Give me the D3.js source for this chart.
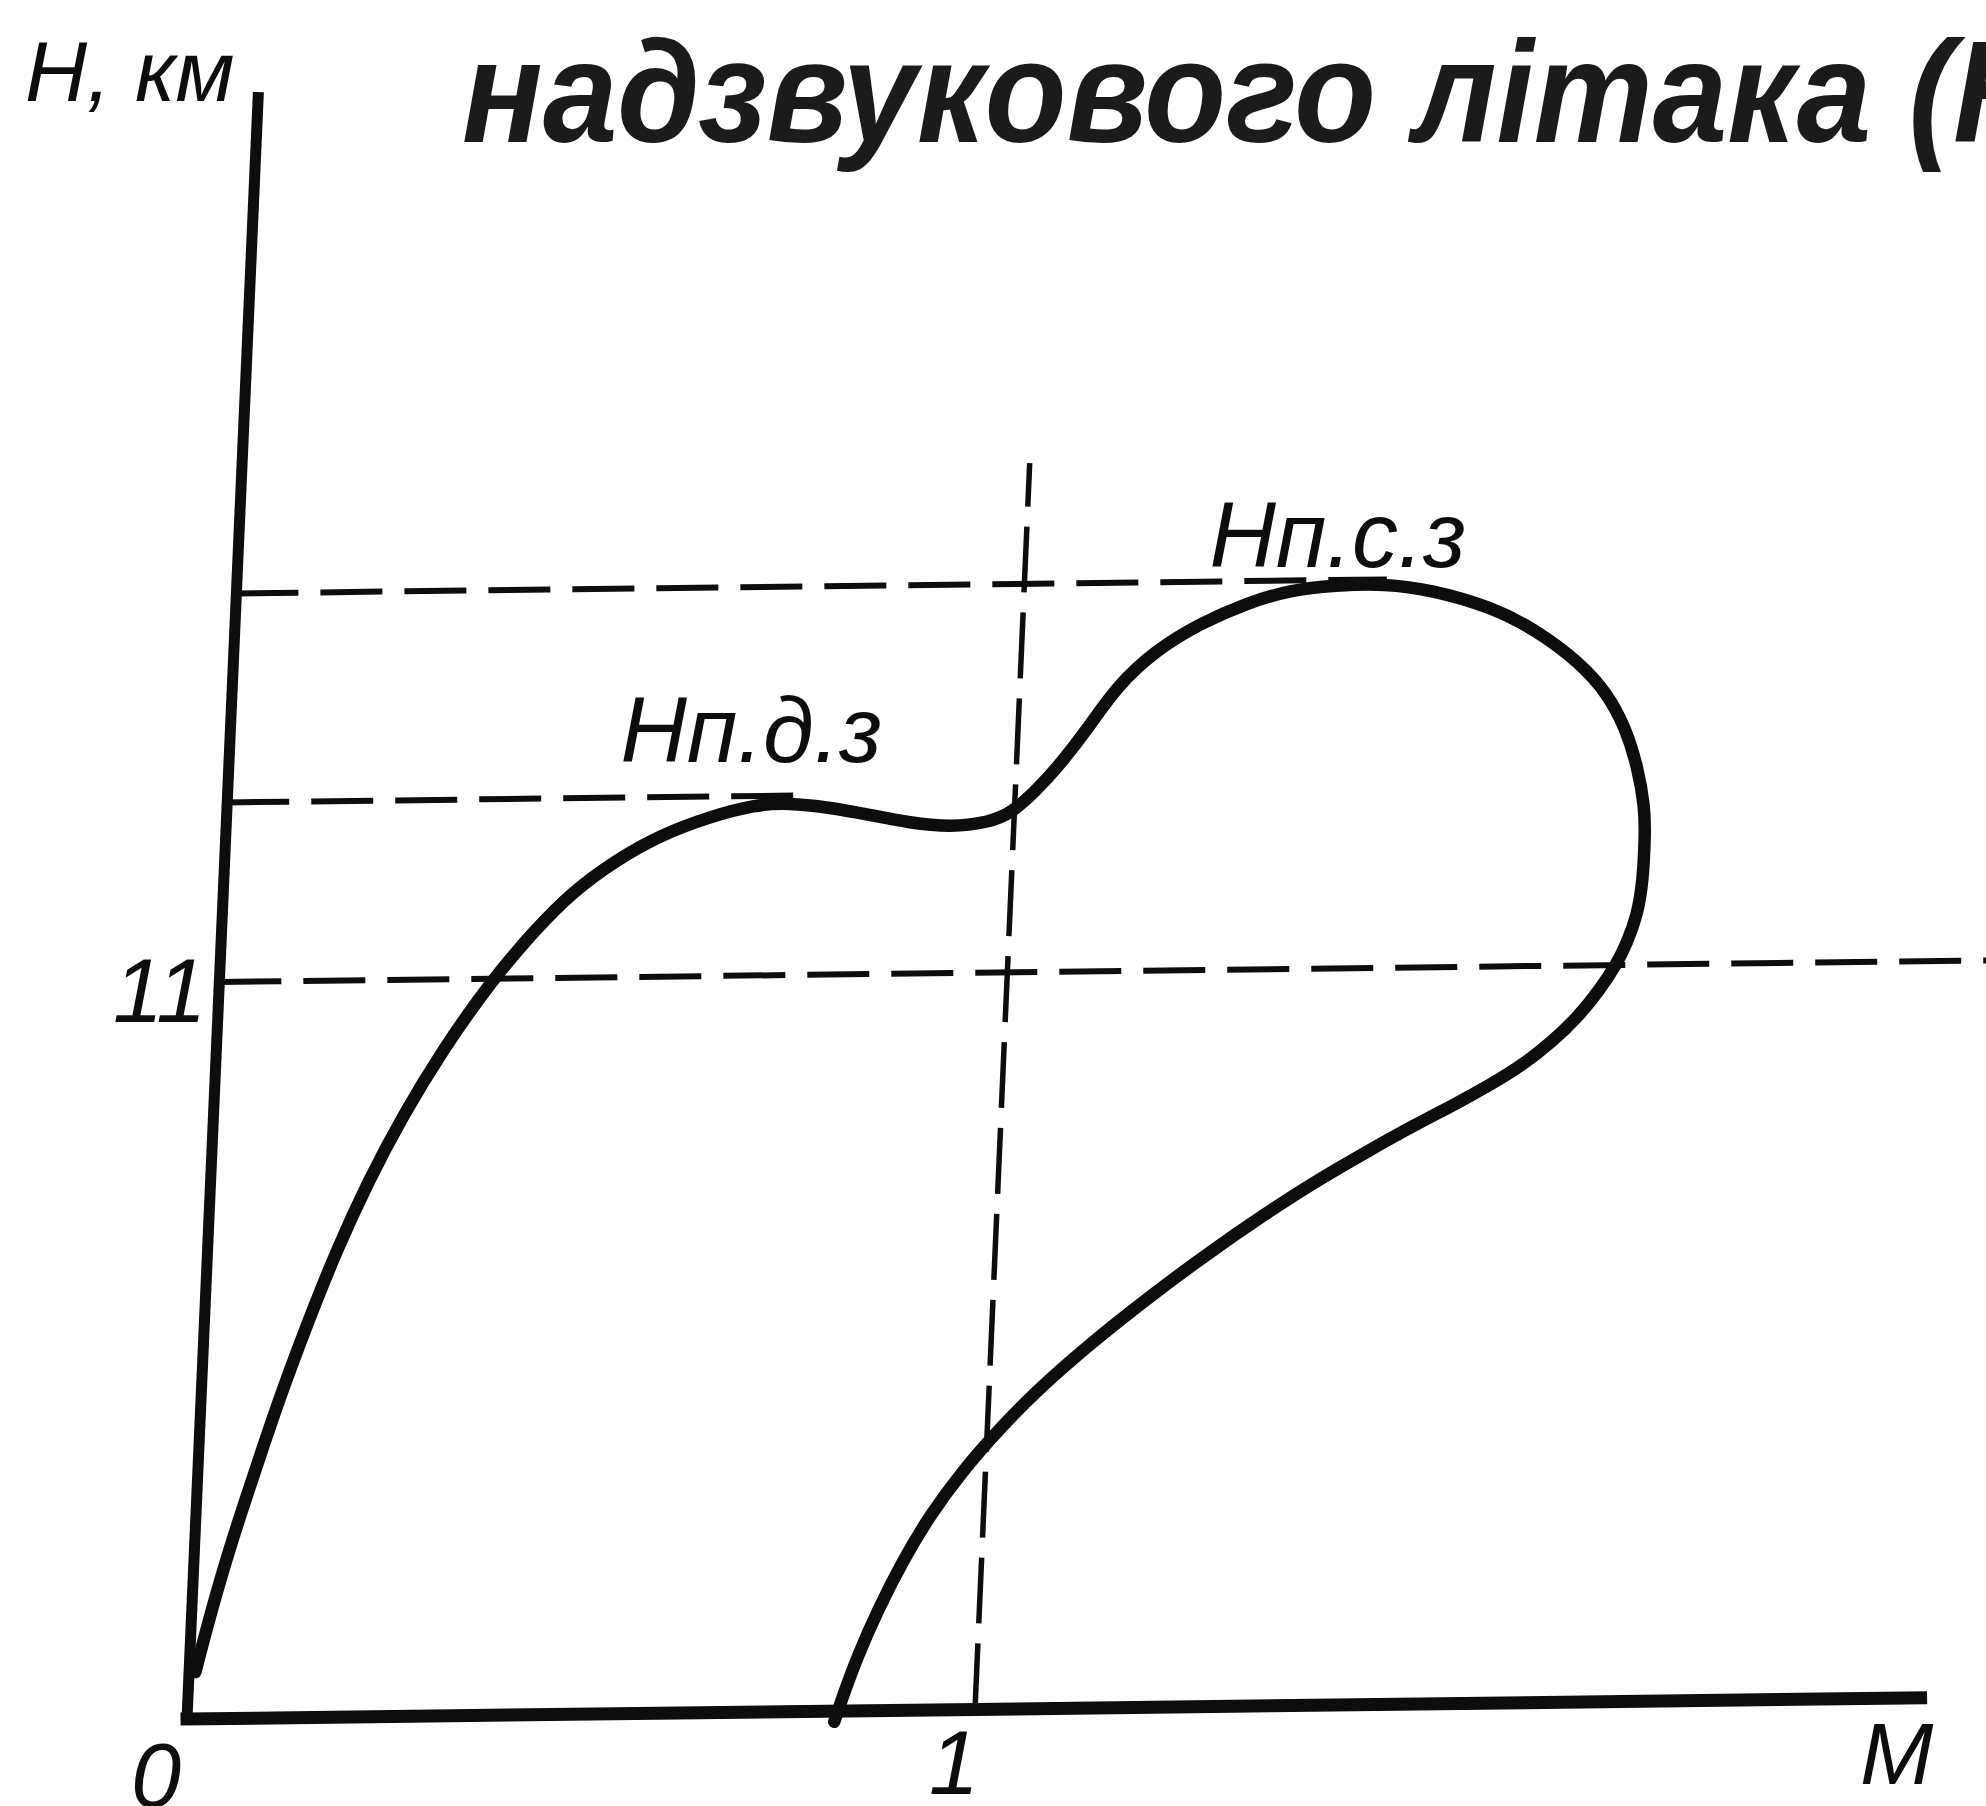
<!DOCTYPE html>
<html>
<head>
<meta charset="utf-8">
<script src="https://cdn.jsdelivr.net/npm/d3@7"></script>
<style>
  html, body { margin: 0; padding: 0; background: #ffffff; overflow: hidden; }
  svg { display: block; }
</style>
</head>
<body>
<svg id="chart" width="1986" height="1806"></svg>
<script>
// Flight envelope of a supersonic aircraft: altitude H (km) against Mach number M.

// Envelope boundary, traced in order from the origin round the loop and back to the M axis
const envelopeM = [0.008, 0.013, 0.034, 0.058, 0.084, 0.099, 0.130, 0.164, 0.201, 0.241, 0.287,
  0.346, 0.398, 0.442, 0.497, 0.553, 0.614, 0.670, 0.712, 0.763, 0.816, 0.868, 0.920, 0.967,
  0.997, 1.027, 1.053, 1.090, 1.122, 1.171, 1.226, 1.283, 1.338, 1.395, 1.457, 1.519, 1.594,
  1.652, 1.710, 1.746, 1.771, 1.789, 1.800, 1.802, 1.802, 1.796, 1.785, 1.774, 1.753, 1.727,
  1.695, 1.659, 1.619, 1.576, 1.526, 1.470, 1.408, 1.341, 1.267, 1.193, 1.126, 1.065, 1.014,
  0.970, 0.932, 0.899, 0.871, 0.848, 0.832, 0.822];
const envelopeH = [0.70, 0.98, 2.07, 3.11, 4.15, 4.75, 5.86, 6.98, 8.02, 8.98, 9.94,
  10.98, 11.72, 12.27, 12.75, 13.12, 13.38, 13.55, 13.57, 13.50, 13.38, 13.25, 13.18, 13.24,
  13.38, 13.72, 14.06, 14.65, 15.24, 15.79, 16.18, 16.47, 16.66, 16.72, 16.74, 16.63, 16.37,
  16.02, 15.52, 15.06, 14.55, 13.95, 13.35, 12.97, 12.22, 11.71, 11.33, 11.03, 10.63, 10.23,
  9.86, 9.52, 9.23, 8.95, 8.65, 8.28, 7.86, 7.35, 6.74, 6.08, 5.44, 4.80, 4.17,
  3.55, 2.91, 2.21, 1.50, 0.82, 0.24, -0.16];

// Horizontal reference levels (km) and how far along M each one is drawn
const levelH    = [16.8, 13.68, 11];
const levelEndM = [1.46, 0.74, 2.40];

// Vertical reference at M = 1
const machLineM = 1;
const machLineTopH = 18.6;

// Axis extents
const axisMaxM = 2.2;
const axisMaxH = 24.2;

// Tick labels
const xTickValues = [0, 1];
const xTickLabels = ["0", "1"];
const yTickValues = [11];
const yTickLabels = ["11"];

// Ceiling labels: dynamic (д) and static (с) ceilings
const curveLabels = ["Нп.д.з", "Нп.с.з"];
const curveLabelM = [0.497, 1.234];
const curveLabelH = [14.21, 17.02];

const titleText = "надзвукового літака (Н";
const yAxisName = "Н, км";
const xAxisName = "M";

// ---------------------------------------------------------------------------
const svg = d3.select("#chart");
svg.append("rect").attr("width", 1986).attr("height", 1806).attr("fill", "#ffffff");

const x = d3.scaleLinear().domain([0, axisMaxM]).range([187, 187 + 788 * axisMaxM]);
const y = d3.scaleLinear().domain([0, axisMaxH]).range([1719, 1719 - 67 * axisMaxH]);

// The hand-drawn axes lean a little; a small shear carries that into every mark.
const shearX = 0.04388;   // px of rightward lean per px of height
const shearY = 0.01218;   // px of rise per px along M
function P(m, h) {
  const sx = x(m), sy = y(h);
  return [sx + shearX * (y(0) - sy), sy - shearY * (sx - x(0))];
}

const ink = "#0d0d0d";
const line = d3.line().x(d => P(d[0], d[1])[0]).y(d => P(d[0], d[1])[1]);

// Dashed reference lines
const gDash = svg.append("g").attr("fill", "none").attr("stroke", ink)
  .attr("stroke-width", 6).attr("stroke-dasharray", "62,22");

levelH.forEach((h, i) => {
  gDash.append("path").attr("d", line([[0, h], [levelEndM[i], h]]));
});
gDash.append("path")
  .attr("stroke-dasharray", "66,20")
  .attr("stroke-width", 5.5)
  .attr("d", line([[machLineM, 0], [machLineM, machLineTopH]]));

// Axes
const gAxis = svg.append("g").attr("fill", "none").attr("stroke", ink)
  .attr("stroke-linecap", "square");
gAxis.append("path").attr("stroke-width", 13).attr("d", line([[0, 0], [axisMaxM, 0]]));
gAxis.append("path").attr("stroke-width", 11).attr("d", line([[0, 0], [0, axisMaxH]]));

// Envelope boundary
const envelope = envelopeM.map((m, i) => [m, envelopeH[i]]);
svg.append("path")
  .attr("fill", "none")
  .attr("stroke", ink)
  .attr("stroke-width", 12.5)
  .attr("stroke-linejoin", "round")
  .attr("stroke-linecap", "round")
  .attr("d", d3.line()
    .x(d => P(d[0], d[1])[0]).y(d => P(d[0], d[1])[1])
    .curve(d3.curveBasis)(envelope));

// Text
const font = "'Liberation Sans', Arial, sans-serif";
const labelStyle = sel => sel.attr("font-family", font).attr("font-style", "italic")
  .attr("fill", ink);

// Tick labels on the M axis sit just below-left of their tick
xTickValues.forEach((m, i) => {
  const p = P(m, 0);
  svg.append("text").call(labelStyle)
    .attr("font-size", 90)
    .attr("text-anchor", "end")
    .attr("x", p[0] + (i === 0 ? -6 : 4))
    .attr("y", p[1] + (i === 0 ? 88 : 85))
    .text(xTickLabels[i]);
});

yTickValues.forEach((h, i) => {
  const p = P(0, h);
  svg.append("text").call(labelStyle)
    .attr("font-size", 90)
    .attr("text-anchor", "end")
    .attr("x", p[0] - 13)
    .attr("y", p[1] + 40)
    .text(yTickLabels[i]);
});

// Axis names
svg.append("text").call(labelStyle)
  .attr("font-size", 86)
  .attr("x", 25).attr("y", 101)
  .text(yAxisName);

svg.append("text").call(labelStyle)
  .attr("font-size", 88)
  .attr("x", 1860).attr("y", 1784)
  .text(xAxisName);

// Ceiling labels
curveLabels.forEach((t, i) => {
  const p = P(curveLabelM[i], curveLabelH[i]);
  svg.append("text").call(labelStyle)
    .attr("font-size", 92)
    .attr("x", p[0]).attr("y", p[1])
    .text(t);
});

// Heading (runs past the right edge)
svg.append("text")
  .attr("font-family", font)
  .attr("font-style", "italic")
  .attr("font-weight", "bold")
  .attr("font-size", 144)
  .attr("fill", "#1a1b1a")
  .attr("transform", "translate(462,142) scale(0.93,1)")
  .text(titleText);
</script>
</body>
</html>
